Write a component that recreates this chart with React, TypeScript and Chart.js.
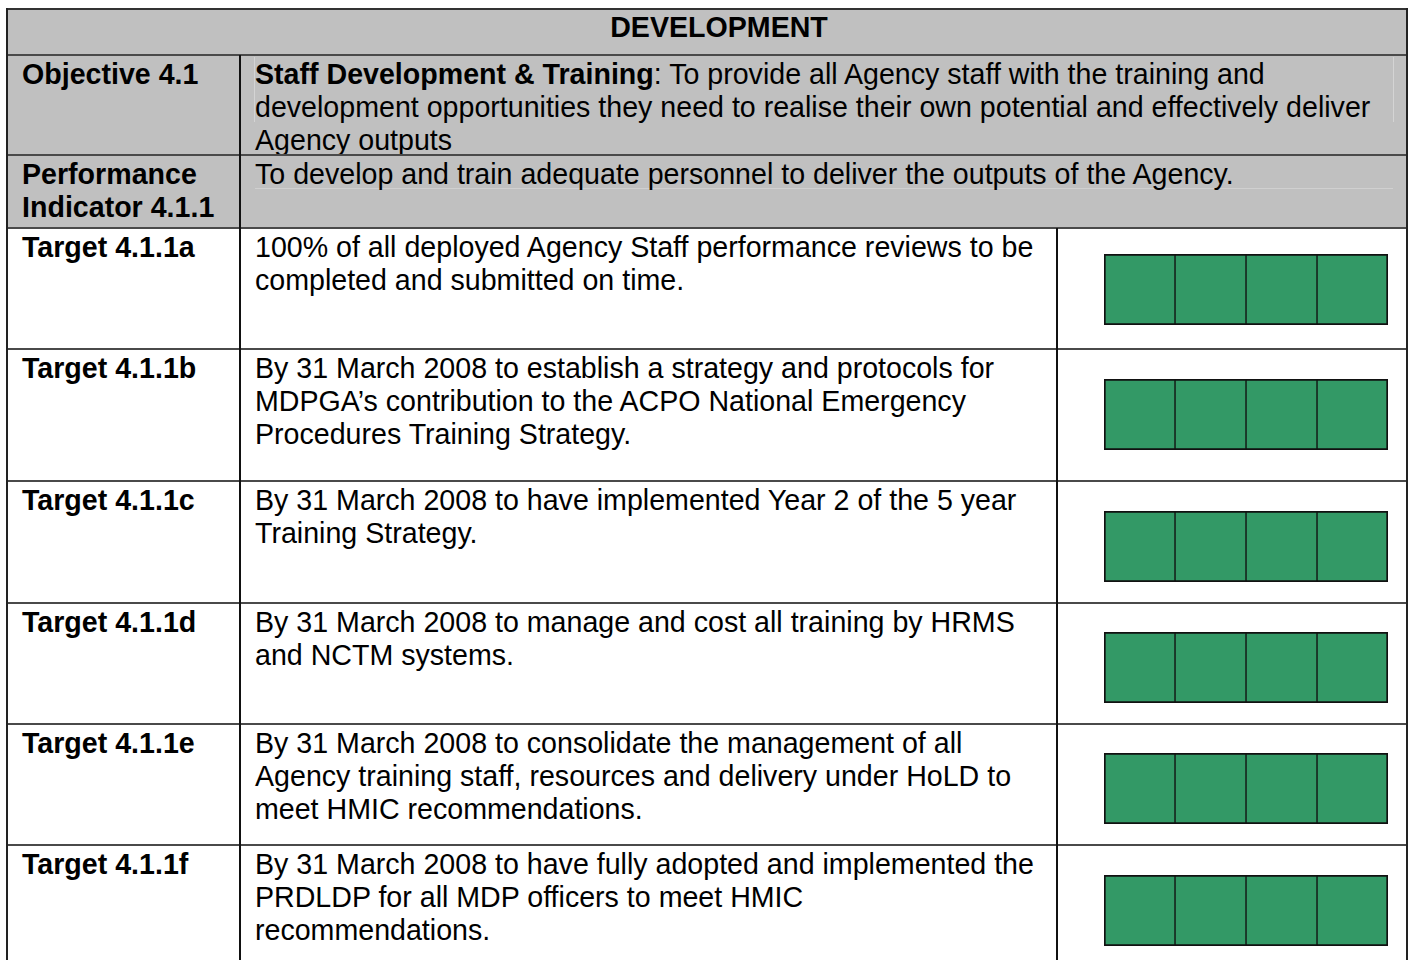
import React, { useEffect, useRef } from "react";
import { Chart, registerables } from "chart.js";

Chart.register(...registerables);

// ---------- data ----------
const headerTitle = "DEVELOPMENT";
const objectiveLabel = "Objective 4.1";
const objectiveTitle = "Staff Development & Training";
const objectiveLines = [
  ": To provide all Agency staff with the training and",
  "development opportunities they need to realise their own potential and effectively deliver",
  "Agency outputs",
];
const indicatorLabel = ["Performance", "Indicator 4.1.1"];
const indicatorText = "To develop and train adequate personnel to deliver the outputs of the Agency.";

const targetLabels = [
  "Target 4.1.1a",
  "Target 4.1.1b",
  "Target 4.1.1c",
  "Target 4.1.1d",
  "Target 4.1.1e",
  "Target 4.1.1f",
];
const targetTexts = [
  ["100% of all deployed Agency Staff performance reviews to be", "completed and submitted on time."],
  [
    "By 31 March 2008 to establish a strategy and protocols for",
    "MDPGA\u2019s contribution to the ACPO National Emergency",
    "Procedures Training Strategy.",
  ],
  ["By 31 March 2008 to have implemented Year 2 of the 5 year", "Training Strategy."],
  ["By 31 March 2008 to manage and cost all training by HRMS", "and NCTM systems."],
  [
    "By 31 March 2008 to consolidate the management of all",
    "Agency training staff, resources and delivery under HoLD to",
    "meet HMIC recommendations.",
  ],
  [
    "By 31 March 2008 to have fully adopted and implemented the",
    "PRDLDP for all MDP officers to meet HMIC",
    "recommendations.",
  ],
];
// quarterly status segments (1 = achieved/green) per target
const quarterNames = ["Q1", "Q2", "Q3", "Q4"];
const targetStatus = [
  [1, 1, 1, 1],
  [1, 1, 1, 1],
  [1, 1, 1, 1],
  [1, 1, 1, 1],
  [1, 1, 1, 1],
  [1, 1, 1, 1],
];

// ---------- layout ----------
const FONT = '"Liberation Sans", Arial, Helvetica, sans-serif';
const FS = 28.6;
const LH = 33;
const X0 = 7;
const X1 = 240;
const X2 = 1057;
const X3 = 1407;
const rowTops = [9, 55, 155, 228, 349, 481, 603, 724, 845, 975];
const boxTops = [254, 379, 511, 632, 753, 875];
const BOX_LEFT = 1104;
const BOX_W = 284;
const BOX_H = 71;
const GRAY = "#c0c0c0";
const GREEN = "#339966";

function StatusBoxes({ status }: { status: number[] }) {
  const ref = useRef<HTMLCanvasElement | null>(null);
  useEffect(() => {
    if (!ref.current) return;
    const n = status.length;
    const chart = new Chart(ref.current, {
      type: "bar",
      data: {
        labels: ["status"],
        datasets: status.map((v, i) => ({
          label: quarterNames[i],
          data: [v],
          backgroundColor: GREEN,
          borderColor: "#111111",
          borderWidth: {
            top: 2,
            bottom: 2,
            left: i === 0 ? 2 : 1,
            right: i === n - 1 ? 2 : 1,
          },
          borderSkipped: false,
          barPercentage: 1,
          categoryPercentage: 1,
        })),
      },
      options: {
        indexAxis: "y",
        responsive: false,
        animation: false,
        layout: { padding: 0 },
        plugins: { legend: { display: false }, tooltip: { enabled: false } },
        scales: {
          x: { stacked: true, min: 0, max: n, display: false },
          y: { stacked: true, display: false },
        },
      },
    });
    return () => chart.destroy();
  }, [status]);
  return <canvas ref={ref} width={BOX_W} height={BOX_H} style={{ width: BOX_W, height: BOX_H, display: "block" }} />;
}

const abs = (l: number, t: number, w: number, h: number, extra: React.CSSProperties = {}): React.CSSProperties => ({
  position: "absolute",
  left: l,
  top: t,
  width: w,
  height: h,
  ...extra,
});

function Lines({ lines, style }: { lines: React.ReactNode[]; style: React.CSSProperties }) {
  return (
    <div style={style}>
      {lines.map((l, i) => (
        <div key={i} style={{ height: LH }}>
          <span>{l}</span>
        </div>
      ))}
    </div>
  );
}

export default function App() {
  const textStyle: React.CSSProperties = {
    fontFamily: FONT,
    fontSize: FS,
    lineHeight: `${LH}px`,
    color: "#000",
    whiteSpace: "pre",
  };
  const hLines = rowTops.slice(0, 9);
  const PT = 3;
  return (
    <div style={{ position: "absolute", left: 0, top: 0, width: 1409, height: 960, overflow: "hidden", background: "#fff" }}>
      {/* gray backgrounds */}
      <div style={abs(X0, rowTops[0], X3 - X0, rowTops[3] - rowTops[0], { background: GRAY })} />

      {/* faint inner artifacts */}
      <div style={abs(254, 57, 1, 65, { background: "#d4d4d4" })} />
      <div style={abs(1393, 57, 1, 65, { background: "#d4d4d4" })} />
      <div style={abs(255, 188, 1138, 1, { background: "#d0d0d0" })} />

      {/* header */}
      <div style={abs(X0 + 24, rowTops[0] + 2, X3 - X0 - 24, LH, { ...textStyle, fontWeight: "bold", textAlign: "center" })}>
        {headerTitle}
      </div>

      {/* objective */}
      <div style={abs(X0 + 15, rowTops[1] + PT, X1 - X0 - 15, LH, { ...textStyle, fontWeight: "bold" })}>
        {objectiveLabel}
      </div>
      <Lines
        style={abs(X1 + 15, rowTops[1] + PT, X3 - X1 - 20, LH * 3, textStyle)}
        lines={[
          <>
            <b>{objectiveTitle}</b>
            {objectiveLines[0]}
          </>,
          objectiveLines[1],
          objectiveLines[2],
        ]}
      />

      {/* indicator */}
      <Lines
        style={abs(X0 + 15, rowTops[2] + PT, X1 - X0 - 15, LH * 2, { ...textStyle, fontWeight: "bold" })}
        lines={indicatorLabel}
      />
      <div style={abs(X1 + 15, rowTops[2] + PT, X3 - X1 - 20, LH, textStyle)}>{indicatorText}</div>

      {/* targets */}
      {targetLabels.map((lab, i) => (
        <React.Fragment key={lab}>
          <div style={abs(X0 + 15, rowTops[3 + i] + PT, X1 - X0 - 15, LH, { ...textStyle, fontWeight: "bold" })}>
            {lab}
          </div>
          <Lines style={abs(X1 + 15, rowTops[3 + i] + PT, X2 - X1 - 15, LH * 3, textStyle)} lines={targetTexts[i]} />
          <div style={abs(BOX_LEFT, boxTops[i], BOX_W, BOX_H)}>
            <StatusBoxes status={targetStatus[i]} />
          </div>
        </React.Fragment>
      ))}

      {/* horizontal rules */}
      {hLines.map((y, i) => (
        <div key={"h" + i} style={abs(X0, y - 1, X3 - X0, 2, { background: i === 0 ? "#333" : "#4a4a4a" })} />
      ))}
      {/* vertical rules */}
      <div style={abs(X0 - 1, rowTops[0] - 1, 2, 980, { background: "#222" })} />
      <div style={abs(X3 - 1, rowTops[0] - 1, 2, 980, { background: "#222" })} />
      <div style={abs(X1 - 1, rowTops[1], 2, 980, { background: "#111" })} />
      <div style={abs(X2 - 1, rowTops[3], 2, 980, { background: "#111" })} />
    </div>
  );
}
